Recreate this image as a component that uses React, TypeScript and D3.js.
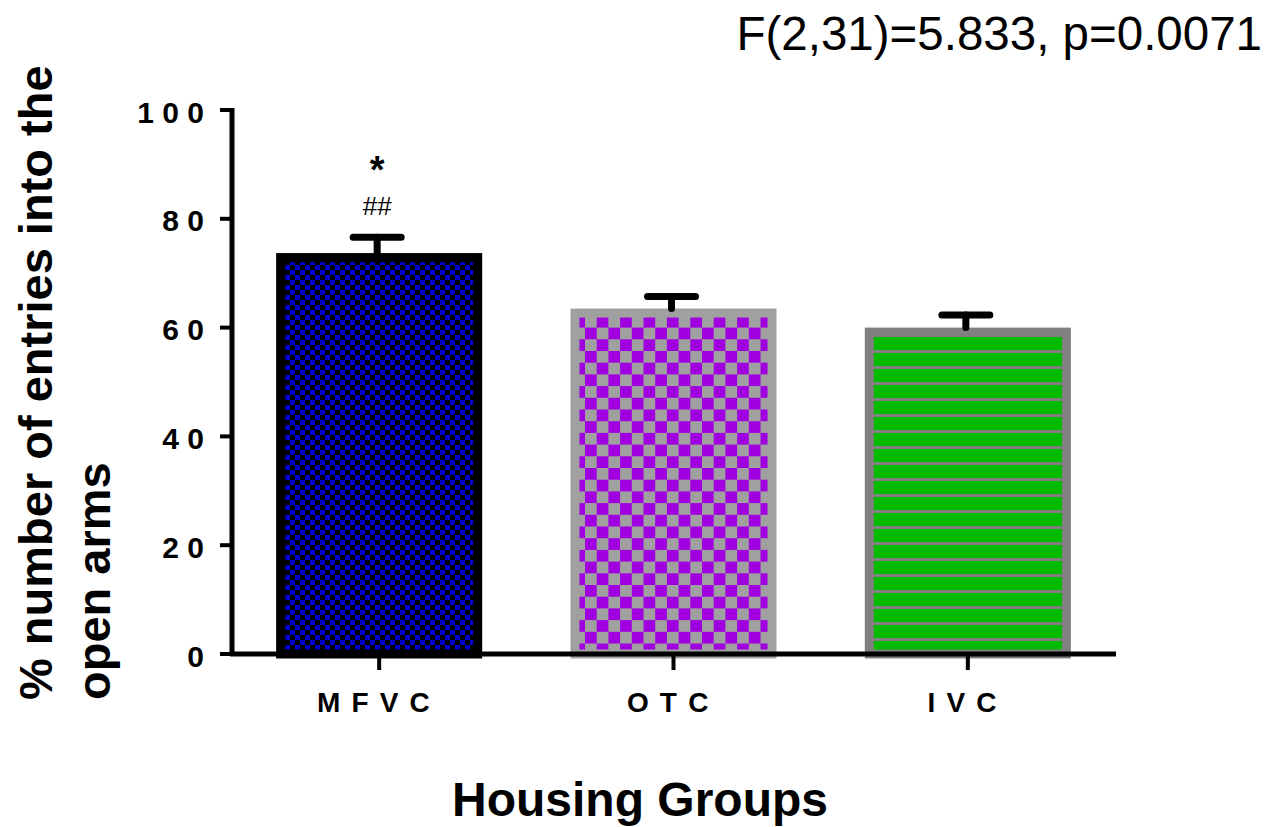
import React from "react";
import * as d3 from "d3";

const categories = ["MFVC", "OTC", "IVC"];
const means = [73.7, 63.5, 60.0];
const errors = [2.9, 2.2, 2.3];
const yTicks = [0, 20, 40, 60, 80, 100];
const fills = ["url(#pMFVC)", "url(#pOTC)", "url(#pIVC)"];
const strokes = ["#000000", "#a0a0a0", "#808080"];
const statText = "F(2,31)=5.833, p=0.0071";

const W = 1269;
const H = 827;
const FONT = "'Liberation Sans', Arial, sans-serif";

export default function App() {
  const x = d3.scaleBand().domain(categories).range([232, 1115]).paddingInner(0.3).paddingOuter(0.15);
  const y = d3.scaleLinear().domain([0, 100]).range([654, 110]);
  const bw = x.bandwidth();
  const sw = 9;

  const spaced = (s: string) => s.split("").join(" ");

  return (
    <svg width={W} height={H} style={{ position: "absolute", left: 0, top: 0, background: "#fff" }} fontFamily={FONT}>
      <defs>
        <pattern id="pMFVC" patternUnits="userSpaceOnUse" width={10} height={10}>
          <rect width={10} height={10} fill="#000" />
          <rect x={0} y={0} width={5} height={5} fill="#0000c8" />
          <rect x={5} y={5} width={5} height={5} fill="#0000c8" />
        </pattern>
        <pattern id="pOTC" patternUnits="userSpaceOnUse" width={23.4} height={23.4}>
          <rect width={23.4} height={23.4} fill="#a0a0a0" />
          <rect x={0} y={0} width={11.7} height={11.7} fill="#a000e0" />
          <rect x={11.7} y={11.7} width={11.7} height={11.7} fill="#a000e0" />
        </pattern>
        <pattern id="pIVC" patternUnits="userSpaceOnUse" width={20} height={16} y={14}>
          <rect width={20} height={16} fill="#00bb00" />
          <rect x={0} y={0} width={20} height={3} fill="#808080" />
        </pattern>
      </defs>

      {/* bars */}
      {categories.map((c, i) => {
        const x0 = x(c)!;
        const top = y(means[i]);
        return (
          <rect
            key={c}
            x={x0 + sw / 2}
            y={top + sw / 2}
            width={bw - sw}
            height={y(0) - top - sw / 2}
            fill={fills[i]}
            stroke={strokes[i]}
            strokeWidth={sw}
          />
        );
      })}

      {/* error bars */}
      {categories.map((c, i) => {
        const cx = x(c)! + bw / 2 - 2;
        const top = y(means[i] + errors[i]);
        return (
          <g key={"e" + c} stroke="#000" strokeWidth={7} strokeLinecap="round">
            <line x1={cx} x2={cx} y1={y(means[i])} y2={top} />
            <line x1={cx - 24} x2={cx + 24} y1={top} y2={top} />
          </g>
        );
      })}

      {/* significance */}
      <text x={x("MFVC")! + bw / 2 - 2} y={183} textAnchor="middle" fontSize={38} fontWeight="bold">*</text>
      <text x={x("MFVC")! + bw / 2 - 2} y={215} textAnchor="middle" fontSize={26}>##</text>

      {/* y axis */}
      <line x1={232} x2={232} y1={y(100) - 2} y2={y(0) + 2} stroke="#000" strokeWidth={5} />
      {yTicks.map((t) => (
        <g key={t}>
          <line x1={220} x2={232} y1={y(t)} y2={y(t)} stroke="#000" strokeWidth={4} />
          <text x={204} y={y(t) + 12.5} textAnchor="end" fontSize={30} fontWeight="bold">
            {spaced(String(t))}
          </text>
        </g>
      ))}

      {/* x axis */}
      <line x1={230} x2={1116} y1={y(0)} y2={y(0)} stroke="#000" strokeWidth={5} />
      {categories.map((c) => {
        const cx = x(c)! + bw / 2;
        return (
          <g key={"t" + c}>
            <line x1={cx} x2={cx} y1={y(0)} y2={y(0) + 16} stroke="#000" strokeWidth={4} />
            <text x={cx - 5} y={712} textAnchor="middle" fontSize={28} fontWeight="bold" letterSpacing={1.7}>
              {spaced(c)}
            </text>
          </g>
        );
      })}

      {/* titles */}
      <text x={1262} y={50} textAnchor="end" fontSize={47.5}>{statText}</text>
      <text x={640} y={816} textAnchor="middle" fontSize={48} fontWeight="bold">Housing Groups</text>
      <text transform="translate(52,700) rotate(-90)" fontSize={47} fontWeight="bold">
        % number of entries into the
      </text>
      <text transform="translate(110,700) rotate(-90)" fontSize={47} fontWeight="bold">
        open arms
      </text>
    </svg>
  );
}
